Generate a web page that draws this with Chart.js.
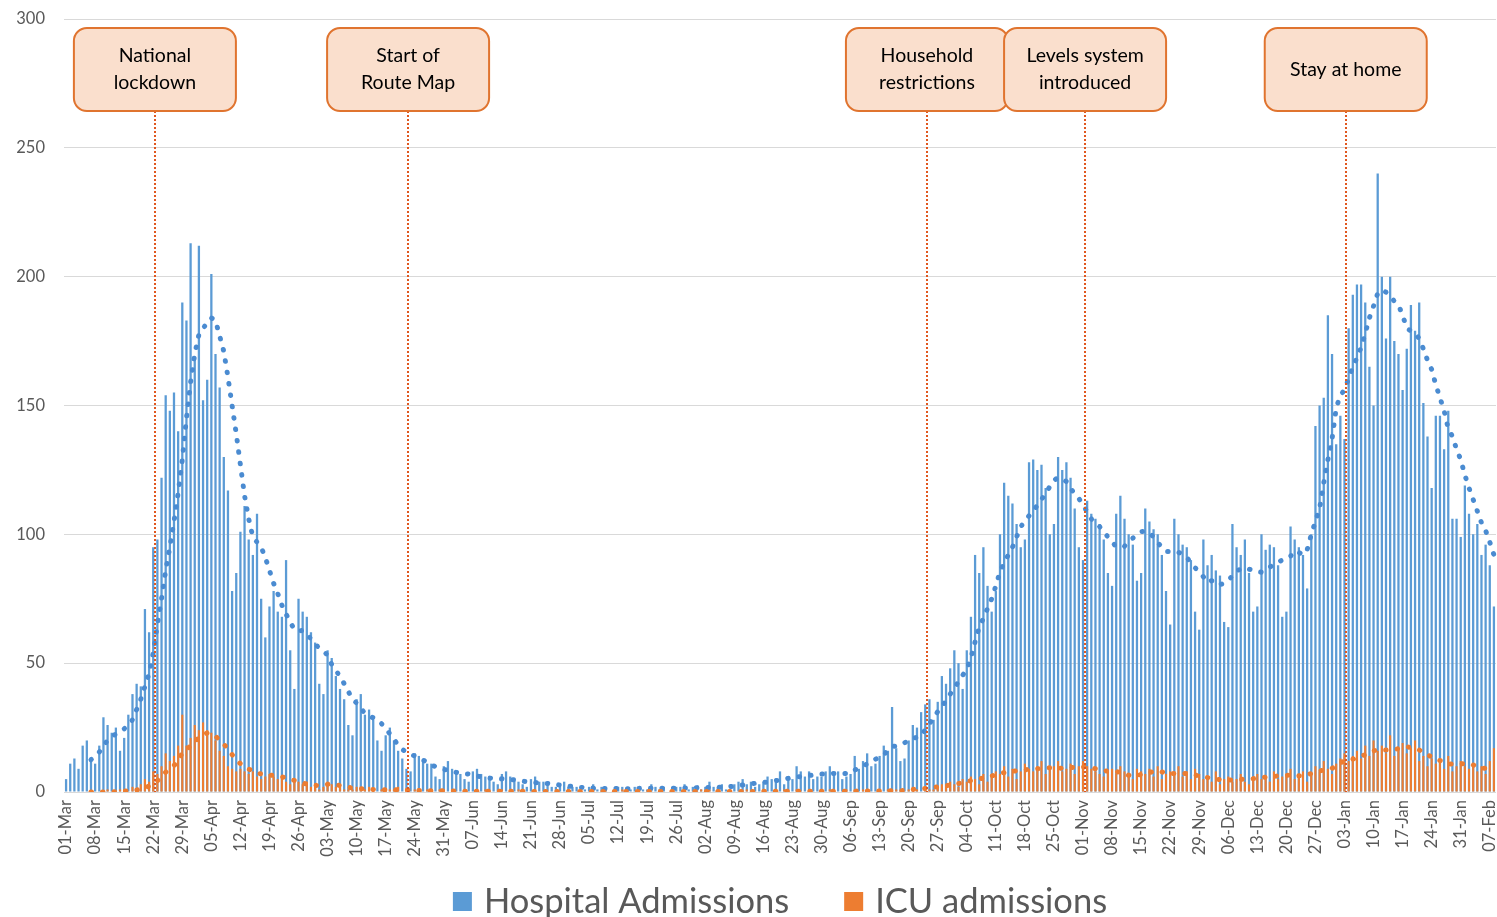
<!DOCTYPE html>
<html><head><meta charset="utf-8">
<script src="https://cdn.jsdelivr.net/npm/chart.js@4.4.1/dist/chart.umd.min.js"></script>
<style>html,body{margin:0;padding:0;background:#fff;overflow:hidden}</style>
</head><body>
<canvas id="c" width="1497" height="917"></canvas>
<script>
// Daily values from 01-Mar-2020 (index 0) to 08-Feb-2021 (index 344)
const startYear = 2020, startMonth = 2, startDay = 1;
const monthNames = ['Jan','Feb','Mar','Apr','May','Jun','Jul','Aug','Sep','Oct','Nov','Dec'];

const hospitalAdmissions = [
  5,11,13,9,18,20,12,
  11,18,29,26,23,25,16,
  21,30,38,42,41,71,62,
  95,98,122,154,148,155,140,
  190,183,213,168,212,152,160,
  201,170,157,130,117,78,85,
  101,111,98,92,108,75,60,
  72,78,70,68,90,55,40,
  75,70,68,62,58,42,38,
  55,52,45,40,36,26,22,
  36,38,30,32,28,20,16,
  22,25,20,16,13,9,8,
  15,14,12,11,11,6,5,
  10,12,9,8,7,5,4,
  8,9,7,6,5,4,3,
  7,8,6,5,4,3,2,
  5,6,4,4,3,2,2,
  3,4,2,2,2,1,1,
  2,3,1,2,1,0,1,
  2,2,1,1,2,1,1,
  1,3,2,1,2,0,1,
  2,2,3,1,2,1,1,
  2,4,2,2,3,1,1,
  3,4,5,3,4,2,3,
  4,6,5,4,8,3,5,
  5,10,8,6,8,5,6,
  6,8,10,7,8,5,6,
  7,14,9,12,15,10,11,
  14,18,16,33,17,12,13,
  20,26,25,31,34,36,28,
  35,45,42,48,55,50,40,
  55,68,92,85,95,80,70,
  78,100,120,115,112,104,95,
  98,128,129,125,127,118,100,
  104,130,125,128,122,110,95,
  90,113,108,106,104,98,85,
  80,108,115,106,100,96,82,
  85,110,105,102,100,92,78,
  65,106,100,96,95,90,70,
  63,98,88,92,86,84,66,
  64,104,95,92,98,85,70,
  72,100,94,96,95,88,68,
  70,103,98,95,92,79,100,
  142,150,153,185,170,135,146,
  137,180,193,197,197,190,165,
  150,240,200,176,200,175,170,
  156,172,189,179,190,151,138,
  118,146,146,133,148,106,106,
  99,119,108,100,104,92,96,
  88,72
];

const icuAdmissions = [
  0,0,0,0,0,0,0,
  0,0,0,1,0,0,1,
  1,0,2,1,3,5,4,
  8,7,10,15,12,14,18,
  30,18,21,26,24,27,24,
  23,20,16,14,10,9,8,
  9,8,7,8,6,5,6,
  7,6,5,6,4,3,4,
  4,3,4,2,3,1,2,
  4,3,2,3,1,1,1,
  2,1,1,2,1,0,1,
  1,1,1,2,0,1,0,
  1,1,0,1,0,0,1,
  1,0,1,0,0,0,0,
  0,1,0,1,0,0,0,
  1,0,0,0,1,0,0,
  0,1,0,0,0,0,0,
  0,0,1,0,0,0,0,
  0,0,0,0,1,0,0,
  0,1,0,0,0,0,0,
  0,0,0,1,0,0,0,
  0,0,0,0,0,0,1,
  0,1,0,0,0,0,0,
  0,0,0,1,0,0,0,
  1,0,0,0,0,1,0,
  0,1,0,0,1,0,0,
  0,0,1,0,0,0,1,
  0,1,0,1,0,0,0,
  1,0,1,0,1,0,0,
  1,2,1,0,2,1,1,
  2,3,2,4,3,2,5,
  4,6,5,3,7,4,6,
  8,7,10,6,9,5,8,
  11,9,8,10,12,7,9,
  10,12,8,9,11,7,10,
  12,10,9,8,7,6,8,
  9,7,10,8,6,5,9,
  8,7,9,6,10,5,7,
  8,7,10,6,8,5,9,
  7,5,6,4,8,3,5,
  6,4,5,7,4,3,5,
  7,5,6,4,8,5,6,
  7,9,5,6,8,4,7,
  10,8,12,9,7,11,13,
  15,12,14,16,13,18,14,
  20,16,18,15,22,14,17,
  19,15,17,20,12,14,10,
  13,11,12,9,14,8,10,
  12,10,9,11,8,10,7,
  12,17
];

// dotted trend lines (7-day moving average as drawn in the picture)
const hospitalAvg = [
  null,null,null,null,null,null,12.5,
  14,15.5,18,20,21.5,22.5,23.5,
  24.5,26,28,32,36,41,46,
  54,65,75,86,95,105,116,
  129,145,159,170,177.5,180,182,
  184,183,177,171,161,150,139,
  127,115,106,99,97,95,91,
  86,81,77,72.5,69,66,63,
  62.5,62.7,61,59.5,57.5,55.8,54.5,
  53.2,49.5,47,45,42,39,36,
  34.5,32.5,30.5,29.5,28.8,28.2,26.5,
  25,22.5,20.4,18.2,16.6,15.4,14.6,
  14,13.2,12.4,11.5,10.6,9.8,9.3,
  8.8,8.4,8,7.6,7.3,7.1,7,
  6.6,6.2,5.9,5.6,5.4,5.3,5.2,
  5.1,5,4.9,4.7,4.5,4.2,4,
  3.8,3.7,3.5,3.4,3.3,3.1,2.9,
  2.7,2.5,2.3,2.1,2,1.8,1.7,
  1.6,1.5,1.5,1.4,1.4,1.3,1.3,
  1.4,1.4,1.3,1.3,1.4,1.4,1.5,
  1.5,1.4,1.4,1.5,1.5,1.4,1.4,
  1.5,1.5,1.6,1.6,1.6,1.7,1.7,
  1.7,1.7,1.8,1.8,1.9,2,2.1,
  2.3,2.5,2.7,2.9,3.1,3.4,3.5,
  3.7,3.9,4.1,4.4,4.7,5,5.3,
  5.5,5.8,6,6.2,6.4,6.6,6.8,
  7,7,7.1,7.2,7.2,7.2,7.2,
  7.3,8.5,9.3,10.1,10.9,11.8,12.7,
  13.6,14.4,16.2,17.6,17.9,18.2,19.1,
  20,20.8,21.2,21.7,24.2,26.5,28.8,
  31.2,33.1,35.5,38,40.4,42.8,45.3,
  47.5,52,58.3,64,67.4,71.2,75,
  80,85.5,89,92,95,99,103,
  105,107.2,109,111.3,113.5,116,118.5,
  121,122,121.5,120.5,118,115.5,114,
  111,109,106,104,103,101,99,
  97,95.2,95,95.4,97,98.5,100,
  101,101.3,100.5,99,96.8,95,93.3,
  93.3,93.3,93,92.3,91,89,87,
  85.6,83.5,81.3,82,82,80.5,81,
  82,84,85.8,86.5,87,86.5,86,
  85.5,85.3,86.3,87.3,88.3,89.2,90,
  90.5,91.5,93.5,93,92,94,100,
  105,110,120,129,137,149,154,
  156,160.5,165,168.5,172.5,178,184,
  188.6,193.5,194.8,194,192.3,190.5,189,
  185,180,179,178,176,172,167.5,
  164,158,153,148,141,138,133,
  129,123,118,113.5,109,104.5,101.5,
  97,92
];

const icuAvg = [
  null,null,null,null,null,null,0,
  0,0,0,0.1,0.1,0.1,0.3,
  0.4,0.4,0.7,0.8,1.1,1.7,2.3,
  3.3,4.4,5.7,7.7,9,10.3,12,
  15.2,16.4,18,19.6,21,22.2,22.9,
  22.5,21.6,20.2,18.6,16.6,14.5,12.5,
  11,9.8,8.9,8.1,7.4,7,6.8,
  6.6,6.4,6.2,5.9,5.4,4.9,4.5,
  4,3.6,3,2.8,2.6,2.5,2.6,
  3,3.2,2.8,2.5,2.1,1.8,1.6,
  1.4,1.3,1.2,1.1,1,0.95,0.9,
  0.9,0.9,0.9,0.9,0.85,0.8,0.7,
  0.7,0.6,0.6,0.6,0.5,0.5,0.5,
  0.5,0.4,0.4,0.4,0.4,0.3,0.3,
  0.3,0.3,0.3,0.3,0.3,0.3,0.3,
  0.3,0.3,0.3,0.3,0.3,0.3,0.3,
  0.2,0.2,0.2,0.2,0.2,0.2,0.2,
  0.2,0.2,0.2,0.2,0.2,0.2,0.2,
  0.2,0.2,0.2,0.2,0.2,0.2,0.2,
  0.2,0.2,0.2,0.2,0.2,0.2,0.2,
  0.2,0.2,0.2,0.2,0.2,0.2,0.2,
  0.2,0.2,0.2,0.2,0.2,0.2,0.2,
  0.2,0.2,0.2,0.2,0.2,0.2,0.2,
  0.2,0.2,0.2,0.2,0.2,0.2,0.2,
  0.3,0.3,0.3,0.3,0.3,0.3,0.3,
  0.3,0.3,0.3,0.3,0.3,0.3,0.3,
  0.3,0.3,0.3,0.3,0.3,0.3,0.3,
  0.3,0.3,0.4,0.4,0.4,0.4,0.4,
  0.4,0.4,0.5,0.5,0.6,0.5,0.6,
  0.8,1,1.1,1.2,1.4,1.6,1.8,
  2,2.2,2.4,2.8,3,3.3,3.6,
  4,4.4,4.7,5,5.5,6,6.2,
  6.8,7.2,7.5,7.8,8,8.2,8.3,
  8.6,8.8,8.9,9,9.2,9.3,9.4,
  9.4,9.3,9.2,9.3,9.5,9.6,9.6,
  9.7,9.8,9.5,9,8.5,8.3,8.1,
  8,7.9,7.6,7.2,6.5,6.3,6.4,
  6.8,7.1,7.5,8,8.3,7.8,7.3,
  7,7.2,7.2,7.2,7.2,7,6.6,
  6.2,6,5.6,5.3,5,4.8,4.7,
  4.7,4.7,4.8,4.9,4.9,5,5.2,
  5.3,5.5,5.8,6,6.1,6.2,6.4,
  6.5,6.6,6.5,6.3,6.2,6.6,7.2,
  7.7,8.2,8.5,8.9,9.2,10,11.4,
  12,12.3,12.7,13.3,14,14.4,15,
  16,16.2,16.3,16.3,16.5,16.6,16.8,
  17.1,17.5,17.3,16.8,16.3,15.4,14.4,
  13.6,12.6,12.2,11.6,10.9,10.9,10.9,
  10.9,11,11.1,10.5,9.7,9.2,9.2,
  9.2,9.6
];

const yTickValues = [0, 50, 100, 150, 200, 250, 300];
const tickEvery = 7;

// events: position on the day axis (category index) and label lines
const eventDays = [21.4, 82.4, 207.4, 245.5, 308.3];
const eventTexts = [
  ['National', 'lockdown'],
  ['Start of', 'Route Map'],
  ['Household', 'restrictions'],
  ['Levels system', 'introduced'],
  ['Stay at home']
];

const dayLabels = hospitalAdmissions.map((_, i) => {
  const d = new Date(Date.UTC(startYear, startMonth, startDay + i));
  return String(d.getUTCDate()).padStart(2, '0') + '-' + monthNames[d.getUTCMonth()];
});

const FONT = 'Lato, "Open Sans", "Liberation Sans", sans-serif';
const BLUE = '#5b9bd5', ORANGE = '#ed7d31';

const overlay = {
  id: 'overlay',
  afterDatasetsDraw(chart) {
    const {ctx, chartArea, scales: {x}} = chart;
    const boxTop = chartArea.top + 9, boxH = 83, boxW = 162;
    ctx.save();
    ctx.strokeStyle = '#e0571f';
    ctx.lineWidth = 2;
    ctx.setLineDash([2, 2]);
    eventDays.forEach(d => {
      const px = Math.round(x.getPixelForValue(d));
      ctx.beginPath();
      ctx.moveTo(px, boxTop + boxH);
      ctx.lineTo(px, chartArea.bottom);
      ctx.stroke();
    });
    ctx.setLineDash([]);
    eventDays.forEach((d, i) => {
      const cx = x.getPixelForValue(d);
      const left = cx - boxW / 2;
      ctx.beginPath();
      ctx.roundRect(left, boxTop, boxW, boxH, 13);
      ctx.fillStyle = '#fadfcd';
      ctx.fill();
      ctx.lineWidth = 2;
      ctx.strokeStyle = '#e0742f';
      ctx.stroke();
      ctx.fillStyle = '#000000';
      ctx.font = '19.5px ' + FONT;
      ctx.textAlign = 'center';
      ctx.textBaseline = 'middle';
      const lines = eventTexts[i];
      const cy = boxTop + boxH / 2;
      const lh = 27;
      lines.forEach((t, k) => {
        ctx.fillText(t, cx, cy + (k - (lines.length - 1) / 2) * lh);
      });
    });
    ctx.restore();
  },
  afterDraw(chart) {
    const {ctx, chartArea} = chart;
    const items = chart.data.datasets.filter(ds => ds.legendRank).sort((a, b) => a.legendRank - b.legendRank);
    ctx.save();
    ctx.font = '34.5px ' + FONT;
    ctx.textBaseline = 'alphabetic';
    ctx.textAlign = 'left';
    const box = 19, gap = 12, itemGap = 55;
    const widths = items.map(it => ctx.measureText(it.label).width);
    let total = 0;
    widths.forEach((w, i) => { total += box + gap + w + (i < widths.length - 1 ? itemGap : 0); });
    let cur = (chartArea.left + chartArea.right) / 2 - total / 2;
    const base = 913;
    items.forEach((it, i) => {
      ctx.fillStyle = it.backgroundColor;
      ctx.fillRect(cur, base - 21, box, box);
      ctx.fillStyle = '#595959';
      ctx.fillText(it.label, cur + box + gap, base);
      cur += box + gap + widths[i] + itemGap;
    });
    ctx.restore();
  }
};

new Chart(document.getElementById('c'), {
  data: {
    labels: dayLabels,
    datasets: [
      { type: 'line', label: 'ICU 7-day average', data: icuAvg, borderColor: ORANGE, borderWidth: 5,
        borderDash: [0.5, 11], borderCapStyle: 'round', pointRadius: 0, fill: false, tension: 0, order: 1 },
      { type: 'line', label: 'Hospital 7-day average', data: hospitalAvg, borderColor: '#4a8bd1', borderWidth: 5,
        borderDash: [0.5, 11], borderCapStyle: 'round', pointRadius: 0, fill: false, tension: 0, order: 2 },
      { type: 'bar', label: 'ICU admissions', data: icuAdmissions, backgroundColor: ORANGE, borderWidth: 0,
        grouped: false, barPercentage: 0.5, categoryPercentage: 1, order: 3, legendRank: 2 },
      { type: 'bar', label: 'Hospital Admissions', data: hospitalAdmissions, backgroundColor: BLUE, borderWidth: 0,
        grouped: false, barPercentage: 0.55, categoryPercentage: 1, order: 4, legendRank: 1 }
    ]
  },
  options: {
    responsive: false,
    animation: false,
    devicePixelRatio: 1,
    layout: { padding: { left: 16, right: 1, top: 19, bottom: 60 } },
    plugins: { legend: { display: false }, tooltip: { enabled: false } },
    scales: {
      x: {
        type: 'category',
        offset: true,
        grid: { display: false, drawTicks: false },
        border: { display: false },
        afterFit: (axis) => { axis.height = 65; axis.paddingLeft = 0; axis.paddingRight = 0; },
        ticks: {
          autoSkip: false, minRotation: 90, maxRotation: 90, padding: 8,
          color: '#595959', font: { family: FONT, size: 16.5 },
          callback: (v, i) => (i % tickEvery === 0 ? dayLabels[i] : '')
        }
      },
      y: {
        min: yTickValues[0], max: yTickValues[yTickValues.length - 1],
        afterBuildTicks: (axis) => { axis.ticks = yTickValues.map(v => ({ value: v })); },
        afterFit: (axis) => { axis.width = 48; axis.paddingTop = 0; axis.paddingBottom = 0; },
        grid: { color: '#d9d9d9', lineWidth: 1, drawTicks: false },
        border: { display: false },
        ticks: { padding: 19, color: '#595959', font: { family: FONT, size: 16.5 } }
      }
    }
  },
  plugins: [overlay]
});
</script>
</body></html>
